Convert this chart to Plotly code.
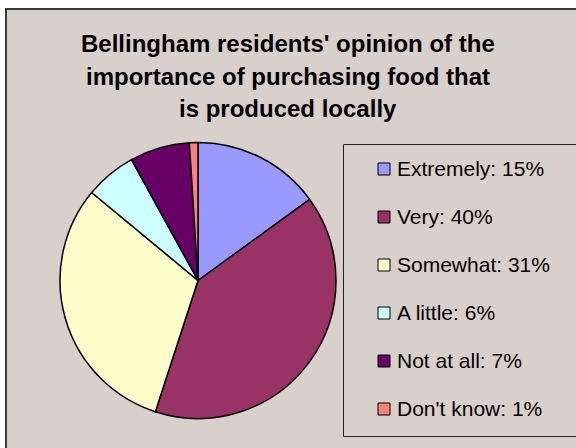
import plotly.graph_objects as go

W, H = 576, 448

# Survey responses
categories = ["Extremely", "Very", "Somewhat", "A little", "Not at all", "Don't know"]
percents = [15, 40, 31, 6, 7, 1]
colors = ["#9999ff", "#993366", "#ffffcc", "#ccffff", "#660066", "#ff8080"]
title_lines = [
    "Bellingham residents' opinion of the",
    "importance of purchasing food that",
    "is produced locally",
]

FONT = "Liberation Sans, Arial, sans-serif"
BG = "#d7d0cb"


def px(x):
    return x / W


def py(y):
    return 1 - y / H


# pie placement (pixels)
cx, cy, r = 198, 280.5, 138

fig = go.Figure(
    go.Pie(
        labels=categories,
        values=percents,
        marker=dict(colors=colors, line=dict(color="black", width=1.5)),
        sort=False,
        direction="clockwise",
        rotation=0,
        textinfo="none",
        hoverinfo="label+percent",
        showlegend=False,
        domain=dict(x=[px(cx - r), px(cx + r)], y=[py(cy + r), py(cy - r)]),
    )
)

shapes = [
    # chart area
    dict(type="rect", xref="paper", yref="paper",
         x0=px(6), x1=px(W + 20), y0=py(H + 20), y1=py(9),
         fillcolor=BG, line=dict(color="#3a3a3a", width=2), layer="below"),
    # legend frame
    dict(type="rect", xref="paper", yref="paper",
         x0=px(343.5), x1=px(W + 20), y0=py(436.5), y1=py(144.5),
         fillcolor="rgba(0,0,0,0)", line=dict(color="#222222", width=1), layer="below"),
]

annotations = []
for i, line in enumerate(title_lines):
    annotations.append(dict(
        text=f"<b>{line}</b>", x=px(287.5), y=py(43 + 33 * i),
        xref="paper", yref="paper", xanchor="center", yanchor="middle",
        showarrow=False, font=dict(family=FONT, size=24, color="black"),
    ))

# legend entries: swatch + label with percentage
step = 48
for i, (cat, pct, col) in enumerate(zip(categories, percents, colors)):
    yc = 169 + step * i
    shapes.append(dict(
        type="rect", xref="paper", yref="paper",
        x0=px(378), x1=px(390), y0=py(yc + 6), y1=py(yc - 6),
        fillcolor=col, line=dict(color="black", width=1),
    ))
    annotations.append(dict(
        text=f"{cat}: {pct}%", x=px(395), y=py(yc - 1),
        xref="paper", yref="paper", xanchor="left", yanchor="middle",
        showarrow=False, font=dict(family=FONT, size=21, color="black"),
    ))

fig.update_layout(
    width=W, height=H,
    margin=dict(l=0, r=0, t=0, b=0),
    paper_bgcolor="white",
    plot_bgcolor="white",
    shapes=shapes,
    annotations=annotations,
)

fig.write_html("out.html")
